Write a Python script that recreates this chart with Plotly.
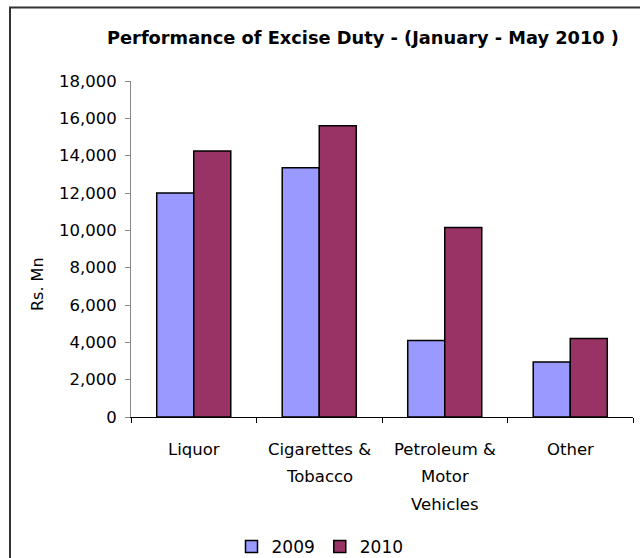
import plotly.graph_objects as go

categories = ["Liquor", "Cigarettes &amp;<br>Tobacco", "Petroleum &amp;<br>Motor<br>Vehicles", "Other"]
category_lines = [["Liquor"], ["Cigarettes &", "Tobacco"], ["Petroleum &", "Motor", "Vehicles"], ["Other"]]
values_2009 = [12000, 13350, 4100, 2950]
values_2010 = [14250, 15600, 10150, 4200]
y_ticks = [0, 2000, 4000, 6000, 8000, 10000, 12000, 14000, 16000, 18000]

FONT = "DejaVu Sans"
W, H = 640, 558
L, R, T, B = 131, 7, 81, 141
pw, ph = W - L - R, H - T - B

fig = go.Figure()
fig.add_trace(go.Bar(x=categories, y=values_2009, name="2009",
                     marker=dict(color="#9999FF", line=dict(color="#000000", width=1.5))))
fig.add_trace(go.Bar(x=categories, y=values_2010, name="2010",
                     marker=dict(color="#993366", line=dict(color="#000000", width=1.5))))

# category labels, one annotation per line for wide line spacing
for cat, lines in zip(categories, category_lines):
    for i, line in enumerate(lines):
        fig.add_annotation(x=cat, xref="x", y=0, yref="paper", yanchor="middle",
                           text=line.replace("&", "&amp;"), showarrow=False,
                           yshift=-32 - 27.5 * i, font=dict(family=FONT, size=16.5, color="#000"))

# y-axis title
fig.add_annotation(x=(37 - L) / pw, xref="paper", y=(H - B - 284) / ph, yref="paper",
                   text="Rs. Mn", textangle=-90, showarrow=False,
                   xanchor="center", yanchor="middle",
                   font=dict(family=FONT, size=16, color="#000"))

# outer chart border
fig.add_shape(type="rect", xref="paper", yref="paper",
              x0=(10 - L) / pw, x1=(700 - L) / pw,
              y0=(H - B - 700) / ph, y1=(H - B - 7.5) / ph,
              line=dict(color="#333333", width=2), fillcolor="rgba(0,0,0,0)", layer="below")

fig.update_layout(
    width=W, height=H,
    margin=dict(l=L, r=R, t=T, b=B),
    paper_bgcolor="white", plot_bgcolor="white",
    barmode="group", bargap=0.41, bargroupgap=0,
    title=dict(text="<b>Performance of Excise Duty - (January - May 2010 )</b>",
               x=(363 - L) / pw, xref="paper", xanchor="center",
               y=1 - 38 / H, yref="container", yanchor="middle",
               font=dict(family=FONT, size=17.8, color="#000")),
    font=dict(family=FONT, color="#000"),
    showlegend=True,
    legend=dict(orientation="h", x=(320 - L) / pw, xanchor="center", xref="paper",
                y=1 - 547 / H, yref="container", yanchor="middle",
                font=dict(family=FONT, size=17, color="#000"),
                itemwidth=30, traceorder="normal"),
)
fig.update_xaxes(showticklabels=False, tickson="boundaries", ticks="outside", ticklen=5,
                 tickcolor="#000", showline=True, linecolor="#000", linewidth=1,
                 showgrid=False, zeroline=False)
fig.update_yaxes(range=[0, 18000], tickvals=y_ticks, ticktext=[f"{v:,}" for v in y_ticks],
                 ticks="outside", ticklen=5, tickcolor="#888", showline=True, linecolor="#888",
                 linewidth=1, showgrid=False, zeroline=False, ticklabelstandoff=5,
                 tickfont=dict(family=FONT, size=16.5, color="#000"))

fig.write_html("out.html")
